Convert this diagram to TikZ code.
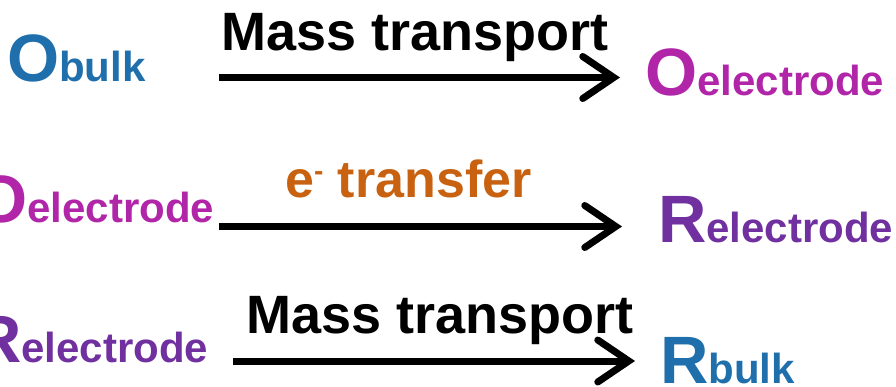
\documentclass[tikz,border=0pt]{standalone}
\usepackage{fontspec}
\setmainfont{Liberation Sans}
\usetikzlibrary{arrows.meta}

\definecolor{bulkblue}{RGB}{31,111,172}
\definecolor{electmagenta}{RGB}{177,38,168}
\definecolor{redpurple}{RGB}{112,48,160}
\definecolor{etorange}{RGB}{200,98,16}

% species symbol: big letter followed by its subscript-sized location
\newcommand{\species}[2]{{\fontsize{67}{67}\selectfont #1}{\fontsize{42}{42}\selectfont #2}}

\tikzset{
  spec/.style={inner sep=0pt, anchor=base west, font=\bfseries},
  steplabel/.style={inner sep=0pt, anchor=base west, font=\bfseries\fontsize{54}{54}\selectfont},
  react/.style={line width=7pt, line cap=butt,
    -{Straight Barb[length=31pt, width=42pt, line cap=round, line join=miter]}},
}

\begin{document}
\begin{tikzpicture}[x=1pt, y=-1pt]
  \useasboundingbox (0,0) rectangle (896,386);
  \clip (0,0) rectangle (896,386);

  % row 1: transport of O from the bulk to the electrode
  \node[spec, text=bulkblue] (ob) at (7,81) {\species{O}{bulk}};
  \node[spec, text=electmagenta] (oe1) at (645,95) {\species{O}{electrode}};
  \coordinate (a1s) at (219,77.5);
  \coordinate (a1e) at (620,77.5);
  \draw[react] (a1s) -- (a1e);
  \node[steplabel] (l1) at (221,50) {Mass transport};

  % row 2: electron transfer at the electrode
  \node[spec, text=electmagenta] (oe2) at (-25,222) {\species{O}{electrode}};
  \node[spec, text=redpurple] (re1) at (658,242) {\species{R}{electrode}};
  \coordinate (a2s) at (219,226.5);
  \coordinate (a2e) at (622,226.5);
  \draw[react] (a2s) -- (a2e);
  \node[steplabel, text=etorange, font=\bfseries\fontsize{52}{52}\selectfont] (l2) at (285,197)
    {e\raisebox{17pt}{\fontsize{28}{28}\selectfont -} transfer};

  % row 3: transport of R from the electrode back to the bulk
  \node[spec, text=redpurple] (re2) at (-27,362) {\species{R}{electrode}};
  \node[spec, text=bulkblue] (rb) at (660,383) {\species{R}{bulk}};
  \coordinate (a3s) at (233,361);
  \coordinate (a3e) at (635,361);
  \draw[react] (a3s) -- (a3e);
  \node[steplabel] (l3) at (246,333) {Mass transport};
\end{tikzpicture}
\end{document}
